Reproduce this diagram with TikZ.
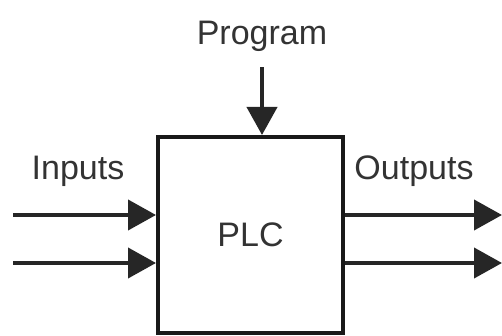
\documentclass[tikz,border=0pt]{standalone}
\usepackage{fontspec}
\setmainfont{Liberation Sans}
\usetikzlibrary{arrows.meta}

\begin{document}
\begin{tikzpicture}[
    x=1pt, y=1pt,
    box/.style={draw=black!90, line width=4pt, minimum width=185pt, minimum height=196pt, inner sep=0pt, font=\fontsize{34}{40}\selectfont, text=black!80},
    lbl/.style={inner sep=2pt, font=\fontsize{34}{40}\selectfont, text=black!80},
    arr/.style={-{Triangle[length=28pt, width=30pt]}, line width=4pt, black!85}
]
\useasboundingbox (0,0) rectangle (502,336);
\node[box] (plc) at (250.5,101) {PLC};
\node[lbl, anchor=base] (prog) at (262,291) {Program};
\node[lbl, anchor=base] (inputs) at (78,156) {Inputs};
\node[lbl, anchor=base] (outputs) at (414,156) {Outputs};

\coordinate (inA) at (13,121);
\coordinate (inB) at (13,73);
\coordinate (outA) at (502,121);
\coordinate (outB) at (502,73);

\draw[arr] ([yshift=-13pt]prog.south) -- (prog.south |- plc.north);
\draw[arr] (inA) -- (inA -| plc.west);
\draw[arr] (inB) -- (inB -| plc.west);
\draw[arr] (outA -| plc.east) -- (outA);
\draw[arr] (outB -| plc.east) -- (outB);
\end{tikzpicture}
\end{document}
